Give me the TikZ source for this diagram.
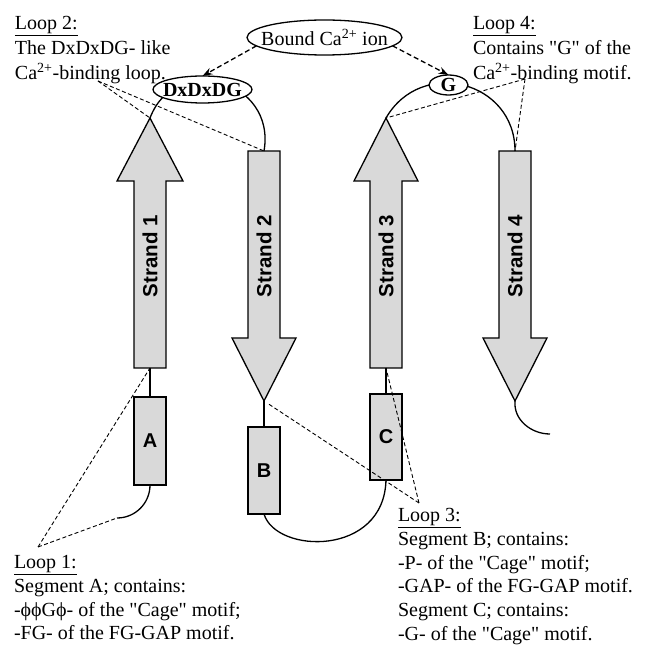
\documentclass[tikz,border=0pt]{standalone}
\usepackage{fontspec}
\setmainfont{Liberation Serif}[Ligatures=TeXOff]
\setsansfont{Liberation Sans}
\usetikzlibrary{arrows.meta,shapes.geometric}
\definecolor{strandgray}{gray}{0.85}
\begin{document}
\begin{tikzpicture}[x=1pt,y=1pt,
  every node/.style={inner sep=0pt,outer sep=0pt},
  strandshape/.style={draw=black,line width=1.3pt,fill=strandgray,line join=miter},
  segbox/.style={rectangle,draw=black,line width=1.3pt,fill=strandgray,minimum width=32pt,font=\sffamily\bfseries\fontsize{20}{24}\selectfont},
  strandlabel/.style={rotate=90,font=\sffamily\bfseries\fontsize{20.5}{24}\selectfont},
  loopline/.style={line width=1.3pt},
  callout/.style={dash pattern=on 4pt off 2.5pt,line width=0.9pt},
  ionarrow/.style={dash pattern=on 5pt off 3pt,line width=1.3pt,-{Stealth[length=10pt,width=7pt]}},
  motif/.style={ellipse,draw=black,line width=1.3pt,fill=white,font=\bfseries\fontsize{20}{24}\selectfont},
  txt/.style={anchor=base west,font=\fontsize{20}{24}\selectfont}]
\useasboundingbox (0,0) rectangle (645,649);

% key points of the strands
\coordinate (s1bot) at (150,281);
\coordinate (s1tip) at (150,531);
\coordinate (s2top) at (264,498);
\coordinate (s2tip) at (264,248);
\coordinate (s3bot) at (386,281);
\coordinate (s3tip) at (386,531);
\coordinate (s4top) at (515,498);
\coordinate (s4tip) at (515,248);
\coordinate (a1end) at (117,131);
\coordinate (s4end) at (550,215);

% strands
\draw[strandshape] (134,281) -- (134,468) -- (117,468) -- (s1tip) -- (183,468) -- (166,468) -- (166,281) -- cycle;
\draw[strandshape] (248,498) -- (248,311) -- (232,311) -- (s2tip) -- (296,311) -- (280,311) -- (280,498) -- cycle;
\draw[strandshape] (370,281) -- (370,468) -- (354,468) -- (s3tip) -- (418,468) -- (402,468) -- (402,281) -- cycle;
\draw[strandshape] (499,498) -- (499,311) -- (483,311) -- (s4tip) -- (547,311) -- (531,311) -- (531,498) -- cycle;

\node[strandlabel] (lab1) at (150,393) {Strand 1};
\node[strandlabel] (lab2) at (264,393) {Strand 2};
\node[strandlabel] (lab3) at (386,393) {Strand 3};
\node[strandlabel] (lab4) at (515,393) {Strand 4};

% segments
\node[segbox,minimum height=88pt] (A) at (150,208) {A};
\node[segbox,minimum height=87pt] (B) at (264,178.5) {B};
\node[segbox,minimum height=86pt] (C) at (386,212) {C};

% loops
\draw[loopline] (s1bot) -- (A.north);
\draw[loopline] (A.south) to[out=-90,in=0] (a1end);
\draw[loopline] (s2tip) -- (B.north);
\draw[loopline] (B.south) .. controls (276,95) and (384,92) .. (C.south);
\draw[loopline] (s3bot) -- (C.north);
\draw[loopline] (s4tip) to[out=-95,in=180] (s4end);
\draw[loopline] (s1tip) to[out=69,in=80,looseness=1.55] (s2top);
\draw[loopline] (s3tip) to[out=60,in=90,looseness=1.35] (s4top);

% motif ellipses
\node[motif,minimum width=99pt,minimum height=27pt] (dx) at (202.5,559.5) {\makebox[40pt]{DxDxDG}};
\node[motif,minimum width=39pt,minimum height=20pt] (g) at (448.5,564) {\makebox[10pt]{G}};
\node[ellipse,draw=black,line width=1.3pt,fill=white,minimum width=155pt,minimum height=35pt,font=\fontsize{20}{24}\selectfont] (ion) at (324.5,611.5) {\makebox[60pt]{Bound Ca\textsuperscript{2+} ion}};

\draw[ionarrow] (ion.187) -- (dx.north);
\draw[ionarrow] (ion.353) -- (g.north);

% callout lines
\coordinate (c2) at (98,568);
\coordinate (c4) at (525,570);
\coordinate (c1) at (38,102);
\coordinate (c3) at (419,146);
\draw[callout] (c2) -- (s1tip);
\draw[callout] (c2) -- (s2top);
\draw[callout] (c4) -- (s3tip);
\draw[callout] (c4) -- (s4top);
\draw[callout] (c1) -- (s1bot);
\draw[callout] (c1) -- (a1end);
\draw[callout,shorten >=5pt] (c3) -- (s2tip);
\draw[callout] (c3) -- (s3bot);

% texts
\node[txt] (t2a) at (15,619) {\underline{Loop 2:}};
\node[txt] (t2b) at (15,594) {The DxDxDG- like};
\node[txt] (t2c) at (15,569) {Ca\textsuperscript{2+}-binding loop.};

\node[txt] (t4a) at (473,619) {\underline{Loop 4:}};
\node[txt] (t4b) at (473,594) {Contains "G" of the};
\node[txt] (t4c) at (473,569) {Ca\textsuperscript{2+}-binding motif.};

\node[txt] (t1a) at (14,80) {\underline{Loop 1:}};
\node[txt] (t1b) at (14,56.4) {Segment A; contains:};
\node[txt] (t1c) at (14,32.8) {-ϕϕGϕ- of the "Cage" motif;};
\node[txt] (t1d) at (14,9.2) {-FG- of the FG-GAP motif.};

\node[txt] (t3a) at (398,127) {\underline{Loop 3:}};
\node[txt] (t3b) at (398,103.4) {Segment B; contains:};
\node[txt] (t3c) at (398,79.8) {-P- of the "Cage" motif;};
\node[txt] (t3d) at (398,56.2) {-GAP- of the FG-GAP motif.};
\node[txt] (t3e) at (398,32.6) {Segment C; contains:};
\node[txt] (t3f) at (398,9) {-G- of the "Cage" motif.};
\end{tikzpicture}
\end{document}
